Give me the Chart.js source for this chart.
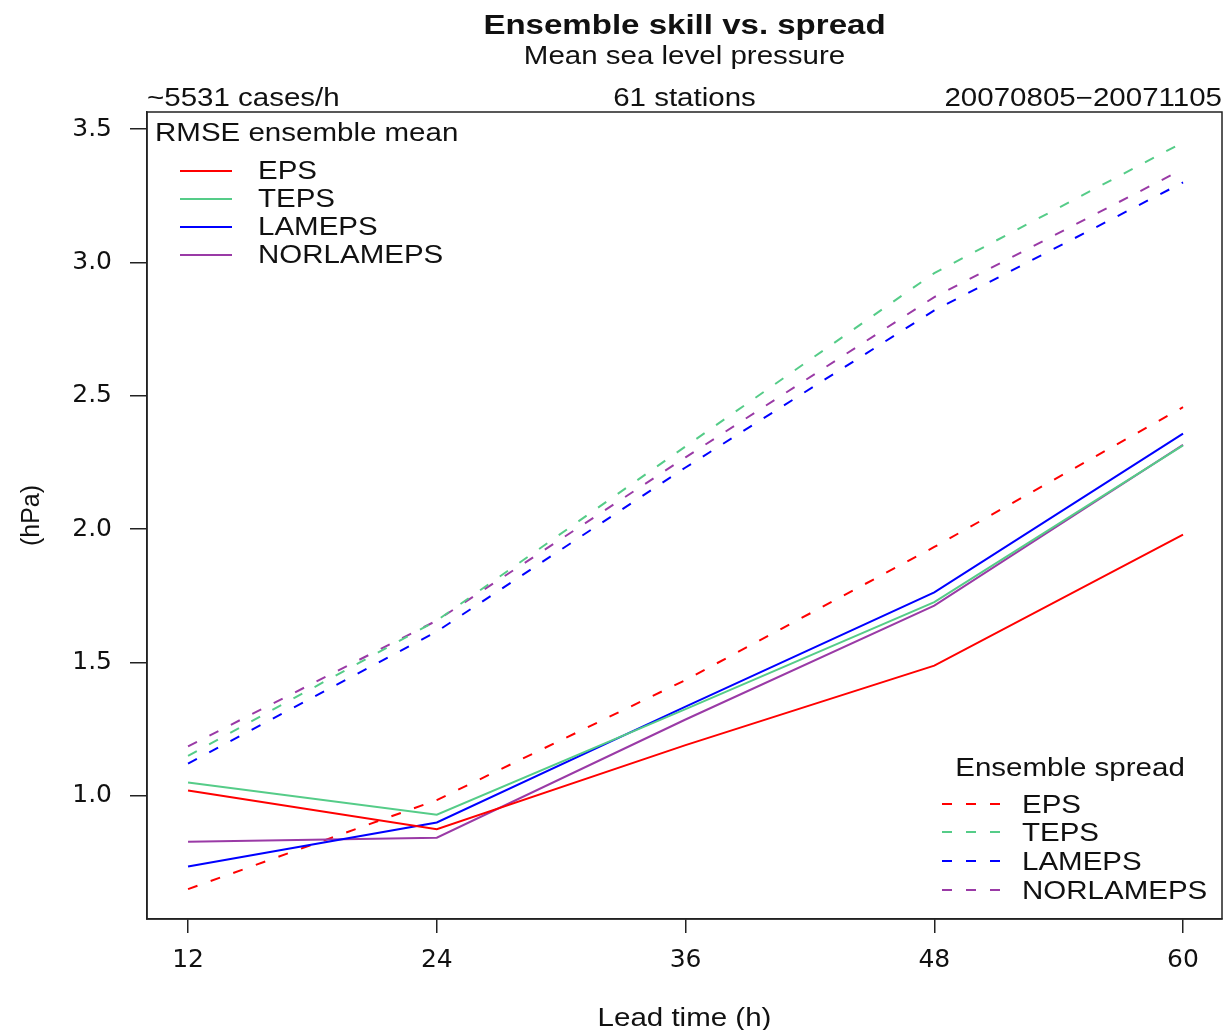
<!DOCTYPE html>
<html>
<head>
<meta charset="utf-8">
<script src="https://cdn.jsdelivr.net/npm/chart.js@4/dist/chart.umd.min.js"></script>
<style>
  html, body { margin: 0; padding: 0; background: #fff; }
  #wrap { width: 1224px; height: 1030px; }
</style>
</head>
<body>
<div id="wrap"><canvas id="chart" width="1224" height="1030"></canvas></div>
<script>
// ================= DATA =================
const leadTimes = [12, 24, 36, 48, 60];
const xTicks = [12, 24, 36, 48, 60];
const yTicks = [1.0, 1.5, 2.0, 2.5, 3.0, 3.5];

const models = ["EPS", "TEPS", "LAMEPS", "NORLAMEPS"];

// RMSE of ensemble mean (solid)
const rmseEPS = [1.02, 0.875, 1.19, 1.488, 1.979];
const rmseTEPS = [1.05, 0.929, 1.325, 1.726, 2.314];
const rmseLAMEPS = [0.735, 0.90, 1.334, 1.763, 2.358];
const rmseNORLAMEPS = [0.828, 0.843, 1.286, 1.713, 2.316];

// Ensemble spread (dashed)
const spreadEPS = [0.65, 0.984, 1.434, 1.933, 2.457];
const spreadTEPS = [1.15, 1.657, 2.31, 2.96, 3.45];
const spreadLAMEPS = [1.121, 1.616, 2.231, 2.82, 3.30];
const spreadNORLAMEPS = [1.185, 1.657, 2.269, 2.87, 3.35];

// ================= STYLE =================
const COLORS = ["#ff0000", "#55cc88", "#0000ff", "#9a3aa6"];
const FONT = '"Liberation Sans", Arial, Helvetica, sans-serif';
const TICK_FONT = '"DejaVu Sans", "Liberation Sans", sans-serif';
const SX = 1.18; // horizontal stretch of the original text
const DASH = [10, 14];

const rmse = [rmseEPS, rmseTEPS, rmseLAMEPS, rmseNORLAMEPS];
const spread = [spreadEPS, spreadTEPS, spreadLAMEPS, spreadNORLAMEPS];

const toPoints = (vals) => vals.map((v, i) => ({ x: leadTimes[i], y: v }));

const datasets = [];
models.forEach((m, i) => {
    datasets.push({
        label: m + " RMSE",
        data: toPoints(rmse[i]),
        borderColor: COLORS[i],
        borderWidth: 2,
        pointRadius: 0,
        tension: 0
    });
});
models.forEach((m, i) => {
    datasets.push({
        label: m + " spread",
        data: toPoints(spread[i]),
        borderColor: COLORS[i],
        borderWidth: 2,
        borderDash: DASH,
        pointRadius: 0,
        tension: 0
    });
});

// ================= TEXT HELPER =================
function text(ctx, str, x, y, align, size, weight) {
    ctx.save();
    ctx.font = `${weight || "normal"} ${size}px ${FONT}`;
    ctx.fillStyle = "#111";
    ctx.textAlign = align;
    ctx.textBaseline = "middle";
    ctx.translate(x, y);
    ctx.scale(SX, 1);
    ctx.fillText(str, 0, 0);
    ctx.restore();
}

// ================= DECORATION PLUGIN =================
const decor = {
    id: "decor",
    afterDraw(chart) {
        const ctx = chart.ctx;
        const a = chart.chartArea;
        const cx = (a.left + a.right) / 2;

        // box
        ctx.save();
        ctx.strokeStyle = "#222";
        ctx.lineWidth = 1.5;
        ctx.strokeRect(a.left, a.top, a.right - a.left, a.bottom - a.top);
        ctx.restore();

        // titles
        text(ctx, "Ensemble skill vs. spread", cx, 26, "center", 28, "bold");
        text(ctx, "Mean sea level pressure", cx, 57, "center", 25);
        text(ctx, "~5531 cases/h", a.left, 99, "left", 25);
        text(ctx, "61 stations", cx, 99, "center", 25);
        text(ctx, "20070805\u221220071105", a.right, 99, "right", 25);
        text(ctx, "Lead time (h)", cx, 1019, "center", 25);

        // top-left legend (solid)
        text(ctx, "RMSE ensemble mean", 155, 134, "left", 25);
        const topY = [171, 199, 227, 255];
        models.forEach((m, i) => {
            ctx.save();
            ctx.strokeStyle = COLORS[i];
            ctx.lineWidth = 2;
            ctx.beginPath();
            ctx.moveTo(180, topY[i]);
            ctx.lineTo(232, topY[i]);
            ctx.stroke();
            ctx.restore();
            text(ctx, m, 258, topY[i] + 1, "left", 25);
        });

        // bottom-right legend (dashed)
        text(ctx, "Ensemble spread", 1070, 769, "center", 25);
        const botY = [804, 832, 861, 890];
        models.forEach((m, i) => {
            ctx.save();
            ctx.strokeStyle = COLORS[i];
            ctx.lineWidth = 2;
            ctx.setLineDash(DASH);
            ctx.beginPath();
            ctx.moveTo(942, botY[i]);
            ctx.lineTo(1000, botY[i]);
            ctx.stroke();
            ctx.restore();
            text(ctx, m, 1022, botY[i] + 2, "left", 25);
        });
    }
};

// ================= CHART =================
const ctx = document.getElementById("chart").getContext("2d");

new Chart(ctx, {
    type: "line",
    data: { datasets },
    plugins: [decor],
    options: {
        responsive: false,
        animation: false,
        layout: { padding: { top: 112, right: 2, left: 0, bottom: 0 } },
        plugins: {
            legend: { display: false },
            title: { display: false },
            tooltip: { enabled: false }
        },
        scales: {
            x: {
                type: "linear",
                min: 10.02,
                max: 61.88,
                afterBuildTicks: (s) => { s.ticks = xTicks.map(v => ({ value: v })); },
                afterFit: (s) => { s.height = 111; },
                grid: { drawOnChartArea: false, tickLength: 14, color: "#222", lineWidth: 1.5 },
                border: { display: true, color: "#222", width: 1.5 },
                ticks: {
                    padding: 12,
                    color: "#111",
                    font: { family: TICK_FONT, size: 25 },
                    maxRotation: 0,
                    callback: (v) => String(v)
                }
            },
            y: {
                type: "linear",
                min: 0.538,
                max: 3.564,
                afterBuildTicks: (s) => { s.ticks = yTicks.map(v => ({ value: v })); },
                afterFit: (s) => { s.width = 147; },
                grid: { drawOnChartArea: false, tickLength: 17, color: "#222", lineWidth: 1.5 },
                border: { display: true, color: "#222", width: 1.5 },
                ticks: {
                    padding: 18,
                    color: "#111",
                    font: { family: TICK_FONT, size: 25 },
                    callback: (v) => Number(v).toFixed(1)
                },
                title: {
                    display: true,
                    text: "(hPa)",
                    color: "#111",
                    font: { family: FONT, size: 25 },
                    padding: { top: 17, bottom: 0 }
                }
            }
        }
    }
});
</script>
</body>
</html>
